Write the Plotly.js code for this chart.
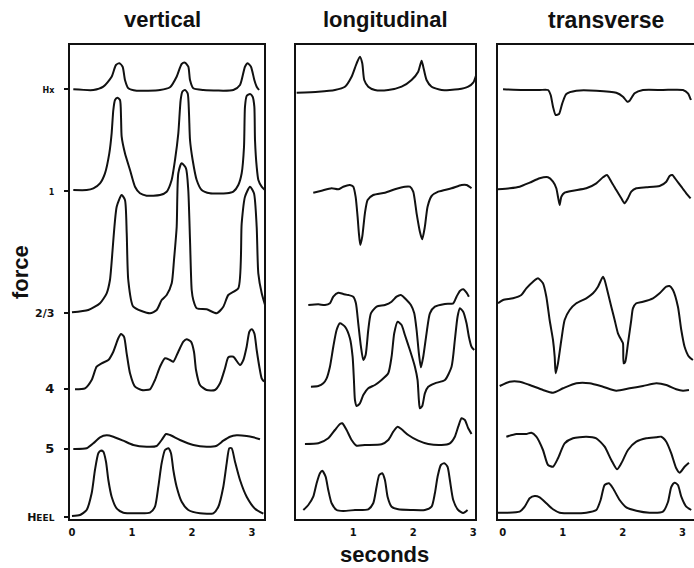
<!DOCTYPE html>
<html>
<head>
<meta charset="utf-8">
<script src="https://cdn.plot.ly/plotly-3.0.1.min.js"></script>
<style>html,body{margin:0;padding:0;background:#fff;}#chart{width:694px;height:568px;}</style>
</head>
<body>
<div id="chart"></div>
<script>
// ---- channel labels and baselines (force axis) ----
const channelNames = ["Hx", "1", "2/3", "4", "5", "Heel"];
const channelTickText = ["<span style='font-size:8px'>Hx</span>", "<span style='font-size:8px'>1</span>",
  "<span style='font-size:11px'>2/3</span>", "<span style='font-size:13px'>4</span>",
  "<span style='font-size:13px'>5</span>", "<span style='font-size:11px'>H</span><span style='font-size:9px'>EEL</span>"];
const channelBase = [430, 328, 206, 130, 70, 2];
const panelTitles = ["vertical", "longitudinal", "transverse"];
const timeTicks = [0, 1, 2, 3];

// ---- vertical ----
const vertHxT = [0.022,0.356,0.522,0.661,0.733,0.789,0.844,0.883,0.939,1.078,1.467,1.633,1.744,1.828,1.883,1.939,1.967,2.022,2.189,2.689,2.8,2.883,2.928,2.983,3.039,3.078,3.117];
const vertHxF = [429.7,429,432.3,442.3,454,455.7,452.3,439,430.7,428.3,429,431.7,442.3,455,456.3,452.3,439,430.7,429,429,434,452.3,455.7,452.3,439,432.3,429];
const vert1T = [0.022,0.244,0.356,0.467,0.55,0.622,0.661,0.689,0.717,0.756,0.8,0.817,0.828,0.883,0.967,1.05,1.133,1.244,1.467,1.578,1.661,1.717,1.772,1.811,1.839,1.883,1.928,1.95,1.967,2.011,2.078,2.161,2.3,2.578,2.689,2.772,2.828,2.867,2.883,2.911,2.967,3.011,3.039,3.05,3.078,3.106,3.161,3.217];
const vert1F = [329,329,330.7,335.7,345.7,365.7,385.7,409,419,421.3,419,402.3,382.3,365.7,349,332.3,325.7,323.3,324,327.3,339,359,385.7,419,427.3,429,425.7,405.7,379,359,339,329,325.7,325.7,327.3,334,345.7,372.3,412.3,423,425,422.3,412.3,379,352.3,339,332.3,329];
const vert23T = [0.0,0.272,0.467,0.578,0.633,0.745,0.828,0.883,0.912,0.938,1.022,1.3,1.412,1.495,1.578,1.662,1.7,1.745,1.772,1.828,1.9,1.938,1.967,1.995,2.022,2.078,2.245,2.412,2.522,2.605,2.772,2.828,2.883,2.967,3.033,3.078,3.105,3.162,3.217];
const vert23F = [206.7,209,215.7,225.7,239,312.3,324,319,286,239,212.3,205.7,209,219,224,235.7,259,292.3,345.7,355.7,350.7,329,279,229,219,210.7,209.7,205.7,212.3,224,230.7,295.7,322.3,332.3,325.7,292.3,245.7,225.7,214];
const vert4T = [0.05,0.217,0.328,0.411,0.494,0.606,0.689,0.772,0.817,0.867,0.911,0.967,1.05,1.161,1.3,1.383,1.467,1.55,1.633,1.689,1.772,1.856,1.911,1.983,2.033,2.067,2.133,2.244,2.383,2.467,2.55,2.606,2.689,2.8,2.856,2.911,2.956,2.994,3.039,3.078,3.122,3.161,3.2];
const vert4F = [129.7,130.7,139,152.3,155.7,159,167.3,180.7,185,182.3,165.7,145.7,132.3,129,129.7,139,152.3,160.7,159,157.3,167.3,177.3,179.7,177.3,167.3,149,134,129,129,135.7,150.7,161.7,162.3,154,159,172.3,187.3,189.7,185.7,169,152.3,140.7,137.3];
const vert5T = [0.022,0.244,0.356,0.467,0.578,0.689,0.856,1.022,1.244,1.411,1.494,1.567,1.633,1.8,2.022,2.244,2.411,2.522,2.633,2.744,2.911,3.022,3.133];
const vert5F = [70,70.7,75.7,81.7,83.7,82.3,78.3,74,72.3,73,79,85,84,79,74,72.3,73.3,78.3,82.3,83.7,83,81.7,79.7];
const vertHeelT = [0.0,0.133,0.244,0.328,0.383,0.439,0.478,0.522,0.567,0.606,0.661,0.744,0.856,1.078,1.3,1.383,1.439,1.494,1.55,1.606,1.65,1.689,1.744,1.828,1.939,2.133,2.356,2.439,2.522,2.578,2.622,2.661,2.717,2.8,2.911,3.05,3.189];
const vertHeelF = [3,4,9,25.7,49,65.7,68.3,67.3,57.3,39,22.3,10.7,6.3,5.7,6.3,12.3,32.3,55.7,69,70.7,65.7,49,32.3,17.3,9,5.7,5.7,12.3,32.3,55.7,70.7,70.7,57.3,39,22.3,10.3,5.3];

// ---- longitudinal ----
const longHxT = [0.056,0.417,0.694,0.861,0.972,1.056,1.111,1.15,1.183,1.25,1.361,1.583,1.806,1.972,2.083,2.139,2.167,2.222,2.306,2.472,2.75,2.917,3.0,3.072];
const longHxF = [426.3,427.3,429,432.3,442.3,455.7,462.3,455.7,439,432.3,429,429,432.3,439,447.3,458.3,452.3,439,432.3,429,429.7,432.3,436.3,448.3];
const long1T = [0.333,0.472,0.639,0.75,0.833,0.944,1.0,1.039,1.072,1.094,1.117,1.15,1.194,1.239,1.333,1.528,1.694,1.861,1.944,2.0,2.056,2.111,2.15,2.194,2.239,2.306,2.417,2.639,2.806,2.889,2.972];
const long1F = [326.3,328.3,330.7,329.7,332.3,334,332.3,322.3,302.3,285.7,274,282.3,305.7,319,324,326.3,329.7,332.3,332.3,327.3,305.7,287.3,279.7,292.3,312.3,323,327.3,330.7,334,334,330.7];
const long23T = [0.25,0.417,0.528,0.611,0.667,0.75,0.833,0.917,1.0,1.044,1.083,1.128,1.167,1.206,1.25,1.294,1.389,1.528,1.639,1.722,1.794,1.889,1.961,2.017,2.056,2.094,2.128,2.167,2.222,2.278,2.361,2.528,2.667,2.722,2.778,2.833,2.889,2.928];
const long23F = [214,214.7,214,215.7,222.3,226.3,225,224,222.3,215.7,195.7,172.3,159,164,189,205.7,212.3,214,217.3,222.3,224,219,214,205.7,189,165.7,151.7,162.3,185.7,205.7,212.3,215,215.7,222.3,228,229.7,226.3,222.3];
const long4T = [0.294,0.417,0.5,0.556,0.611,0.667,0.722,0.778,0.861,0.944,0.989,1.011,1.028,1.056,1.111,1.167,1.25,1.361,1.472,1.583,1.639,1.683,1.739,1.806,1.861,1.944,2.028,2.072,2.094,2.111,2.15,2.194,2.25,2.361,2.528,2.639,2.694,2.739,2.778,2.833,2.889,2.928,2.972,3.017];
const long4F = [132.3,133,135.7,140.7,152.3,172.3,189,195.7,192.3,180.7,162.3,139,119,113,115.7,124,130.7,134,139,145.7,162.3,185.7,197.3,194,184,169,152.3,139,119,110.7,113,125.7,132.3,135.7,139,152.3,179,202.3,210.7,207.3,195.7,182.3,172.3,169];
const long5T = [0.194,0.417,0.583,0.694,0.778,0.817,0.889,0.972,1.056,1.194,1.472,1.583,1.667,1.739,1.806,1.917,2.083,2.25,2.472,2.611,2.694,2.75,2.806,2.861,2.917,2.972];
const long5F = [75,75.7,80.7,89,95,95.7,89,79,73.3,74,74.7,79,87.3,92.3,89.7,84,78.3,75,74,75.7,82.3,92.3,100.7,99,90.7,85];
const longHeelT = [0.167,0.25,0.333,0.389,0.444,0.483,0.539,0.583,0.639,0.722,0.833,1.028,1.25,1.333,1.389,1.433,1.483,1.528,1.572,1.639,1.75,1.972,2.194,2.306,2.361,2.406,2.461,2.517,2.572,2.611,2.667,2.75,2.833,2.906];
const longHeelF = [9,14,22.3,35.7,45.7,48.3,42.3,29,15.7,9,8,9,9.7,15.7,32.3,44,45.7,39,22.3,12.3,9.7,9,9,12.3,25.7,42.3,54,55.7,52.3,39,19,9,6,9];

// ---- transverse ----
const tranHxT = [0.006,0.339,0.617,0.756,0.8,0.839,0.883,0.939,0.994,1.061,1.228,1.561,1.894,2.006,2.078,2.117,2.2,2.339,2.672,3.006,3.089,3.139];
const tranHxF = [429.7,429,429,429,424,412.3,404,405,415.7,425,428.3,428.3,426.3,422.3,417.3,418.3,425.7,429,429,429,425.7,419];
const tran1T = [-0.078,0.117,0.283,0.45,0.617,0.756,0.839,0.894,0.922,0.95,0.978,1.033,1.172,1.394,1.561,1.672,1.739,1.811,1.894,1.978,2.033,2.089,2.144,2.228,2.394,2.617,2.728,2.783,2.828,2.894,2.978,3.061,3.133];
const tran1F = [329.7,330.7,332.3,336.3,340.7,341.7,337.3,330.7,322.3,314,322.3,326.3,328.3,330.7,335.7,341.7,344,337.3,329,320.7,315.7,320.7,327.3,330.7,331.7,333,337.3,343,344,339,332.3,325.7,320.7];
const tran23T = [-0.078,0.006,0.172,0.311,0.394,0.506,0.589,0.672,0.728,0.783,0.839,0.867,0.883,0.922,0.978,1.033,1.117,1.228,1.394,1.506,1.589,1.672,1.7,1.756,1.811,1.867,1.922,1.978,2.006,2.017,2.044,2.089,2.144,2.172,2.228,2.339,2.506,2.617,2.728,2.783,2.839,2.922,2.978,3.033,3.106,3.172];
const tran23F = [215.7,219,220.7,224,230.7,237.3,240.7,235.7,222.3,199,179,162.3,145.7,155.7,179,199,209,215.7,220.7,225.7,232.3,242.3,239,225.7,212.3,199,185.7,179,175.7,155.7,157.3,175.7,199,210.7,215.7,217.3,220.7,225.7,232.3,233,229,212.3,189,172.3,162.3,159];
const tran4T = [-0.05,0.117,0.283,0.45,0.672,0.839,1.006,1.228,1.45,1.672,1.894,2.117,2.339,2.561,2.728,2.894,3.006,3.106];
const tran4F = [133,137.3,137.3,134,129,126.3,130.7,135.7,135.7,132.3,128.3,130.7,133,135.7,134,129.7,128.3,129];
const tran5T = [0.061,0.228,0.394,0.478,0.561,0.672,0.756,0.839,0.922,1.033,1.172,1.394,1.561,1.7,1.811,1.906,1.978,2.089,2.228,2.394,2.561,2.644,2.728,2.811,2.894,2.95,3.033,3.106];
const tran5F = [82.3,85,85,86.3,82.3,69,54,52.3,60.7,75.7,80.7,82.3,80.7,72.3,59,49.7,55.7,69,77.3,80.7,81.7,82.3,77.3,65.7,50.7,46.3,52.3,56.3];
const tranHeelT = [-0.078,0.061,0.283,0.367,0.45,0.533,0.617,0.728,0.839,0.95,1.172,1.394,1.561,1.633,1.7,1.772,1.839,1.95,2.061,2.228,2.45,2.672,2.756,2.811,2.867,2.922,2.978,3.061,3.144];
const tranHeelF = [6.3,6.3,7.3,12.3,20.7,23,21.7,15.7,9.7,6.3,5.7,6.3,9,19,34,35.7,30.7,19,11.7,8.3,6.3,7.3,17,32,36.3,34,22.3,12.3,9];

const panels = [
  {xa: "x",  ya: "y",  series: [[vertHxT, vertHxF], [vert1T, vert1F], [vert23T, vert23F], [vert4T, vert4F], [vert5T, vert5F], [vertHeelT, vertHeelF]]},
  {xa: "x2", ya: "y2", series: [[longHxT, longHxF], [long1T, long1F], [long23T, long23F], [long4T, long4F], [long5T, long5F], [longHeelT, longHeelF]]},
  {xa: "x3", ya: "y3", series: [[tranHxT, tranHxF], [tran1T, tran1F], [tran23T, tran23F], [tran4T, tran4F], [tran5T, tran5F], [tranHeelT, tranHeelF]]}
];

const data = [];
panels.forEach((p, pi) => {
  p.series.forEach((s, si) => {
    data.push({
      x: s[0], y: s[1], xaxis: p.xa, yaxis: p.ya, type: "scatter", mode: "lines",
      name: panelTitles[pi] + " " + channelNames[si],
      line: {color: "#111", width: 2, shape: "spline", smoothing: 0.6},
      hoverinfo: "skip", showlegend: false
    });
  });
});

const W = 694, H = 568;
const yDom = [1 - 519 / H, 1 - 45 / H];
function xax(dom, rng) {
  return {domain: dom, range: rng, showgrid: false, zeroline: false, showline: true, linecolor: "#111", linewidth: 1.6,
    mirror: true, tickvals: timeTicks, ticktext: timeTicks.map(String), ticks: "", ticklabelstandoff: 3,
    tickfont: {family: "DejaVu Sans, sans-serif", size: 10, color: "#111", weight: "bold"}, fixedrange: true};
}
function yax(showLabels, mirror) {
  return {domain: yDom, range: [0, 474], showgrid: false, zeroline: false, showline: true, linecolor: "#111", linewidth: 1.6,
    mirror: mirror, tickvals: showLabels ? channelBase : [], ticktext: showLabels ? channelTickText : [],
    ticks: showLabels ? "outside" : "", ticklen: 4, tickwidth: 1.5, tickcolor: "#111", ticklabelstandoff: 8,
    tickfont: {family: "DejaVu Sans, sans-serif", size: 10, color: "#111", weight: "bold"}, fixedrange: true};
}

const titleFont = {family: "Liberation Sans, Arial, sans-serif", size: 22, color: "#111", weight: "bold"};
function ann(text, px, py, extra) {
  return Object.assign({text: text, x: px / W, y: 1 - py / H, xref: "paper", yref: "paper", showarrow: false,
    xanchor: "center", yanchor: "middle", font: titleFont}, extra || {});
}
const layout = {
  width: W, height: H, margin: {l: 0, r: 0, t: 0, b: 0}, paper_bgcolor: "#fff", plot_bgcolor: "#fff",
  showlegend: false,
  xaxis: xax([70 / W, 264 / W], [-0.033, 3.2]),
  xaxis2: xax([296 / W, 475 / W], [0.045, 3.03]),
  xaxis3: xax([498 / W, 1], [-0.078, 3.19]),
  yaxis: Object.assign(yax(true, true), {anchor: "x"}),
  yaxis2: Object.assign(yax(false, true), {anchor: "x2"}),
  yaxis3: Object.assign(yax(false, false), {anchor: "x3"}),
  annotations: [
    ann(panelTitles[0], 162, 20),
    ann(panelTitles[1], 385, 20),
    ann(panelTitles[2], 606, 20, {font: Object.assign({}, titleFont, {size: 23})}),
    ann("seconds", 384, 554),
    ann("force", 20, 272, {textangle: -90})
  ]
};

Plotly.newPlot("chart", data, layout, {staticPlot: true, displayModeBar: false});
</script>
</body>
</html>
